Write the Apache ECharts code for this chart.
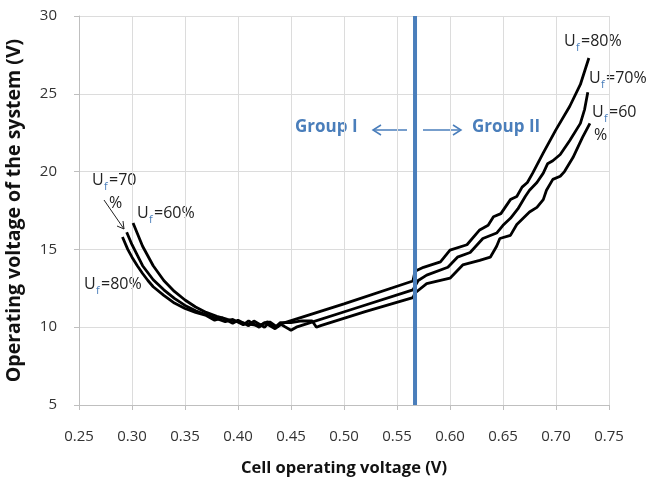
<!DOCTYPE html>
<html>
<head>
<meta charset="utf-8">
<script src="https://cdn.jsdelivr.net/npm/echarts@6/dist/echarts.min.js"></script>
<style>
  html, body { margin: 0; padding: 0; background: #fff; }
  #main { width: 651px; height: 481px; }
</style>
</head>
<body>
<div id="main"></div>
<script>
const myChart = echarts.init(document.getElementById('main'))

// x ticks 0.25 .. 0.75, y ticks 5 .. 30
const xTicks = [0.25, 0.3, 0.35, 0.4, 0.45, 0.5, 0.55, 0.6, 0.65, 0.7, 0.75]
const yTicks = [5, 10, 15, 20, 25, 30]

// Uf = 80% (cell voltage, system voltage)
const uf80 = [
  [0.291, 15.8], [0.296, 15.0], [0.3, 14.5], [0.305, 13.95], [0.31, 13.45], [0.315, 13.0],
  [0.32, 12.6], [0.33, 12.05], [0.34, 11.55], [0.35, 11.2], [0.36, 10.95], [0.37, 10.75],
  [0.378, 10.45], [0.385, 10.6], [0.395, 10.25], [0.4, 10.45], [0.41, 10.1], [0.415, 10.4],
  [0.425, 10.0], [0.43, 10.35], [0.437, 10.0], [0.442, 10.25], [0.5, 11.5], [0.565, 12.97],
  [0.567, 13.6], [0.575, 13.85], [0.591, 14.2], [0.6, 14.95], [0.616, 15.3], [0.628, 16.25],
  [0.636, 16.55], [0.641, 17.1], [0.648, 17.3], [0.657, 18.2], [0.663, 18.4], [0.668, 19.0],
  [0.673, 19.3], [0.678, 19.9], [0.688, 21.2], [0.7, 22.7], [0.713, 24.2], [0.723, 25.6],
  [0.731, 27.3]
]

// Uf = 70%
const uf70 = [
  [0.295, 16.1], [0.3, 15.3], [0.31, 13.95], [0.32, 13.05], [0.33, 12.4], [0.34, 11.85],
  [0.35, 11.4], [0.36, 11.05], [0.37, 10.8], [0.38, 10.55], [0.388, 10.35], [0.395, 10.5],
  [0.405, 10.15], [0.41, 10.4], [0.42, 10.0], [0.425, 10.3], [0.435, 9.9], [0.44, 10.2],
  [0.45, 9.8], [0.455, 10.0], [0.51, 11.2], [0.565, 12.4], [0.57, 13.0], [0.578, 13.35],
  [0.598, 13.85], [0.607, 14.5], [0.619, 14.8], [0.631, 15.7], [0.644, 16.05], [0.65, 16.55],
  [0.657, 17.0], [0.664, 17.6], [0.671, 18.4], [0.675, 18.8], [0.682, 19.3], [0.688, 19.9],
  [0.692, 20.5], [0.697, 20.7], [0.704, 21.1], [0.713, 22.0], [0.723, 23.1], [0.727, 24.0],
  [0.73, 25.1]
]

// Uf = 60%
const uf60 = [
  [0.301, 16.7], [0.31, 15.2], [0.32, 13.95], [0.33, 13.0], [0.34, 12.3], [0.35, 11.75],
  [0.36, 11.3], [0.37, 10.95], [0.38, 10.7], [0.39, 10.5], [0.4, 10.35], [0.41, 10.2],
  [0.42, 10.1], [0.428, 10.35], [0.435, 10.0], [0.44, 10.3], [0.45, 10.3], [0.46, 10.4],
  [0.47, 10.4], [0.474, 10.0], [0.478, 10.1], [0.52, 11.0], [0.565, 11.9], [0.567, 12.2],
  [0.578, 12.8], [0.6, 13.15], [0.612, 14.0], [0.628, 14.3], [0.638, 14.5], [0.644, 15.2],
  [0.647, 15.7], [0.657, 15.9], [0.663, 16.6], [0.675, 17.4], [0.682, 17.7], [0.688, 18.2],
  [0.691, 18.8], [0.697, 19.5], [0.704, 19.7], [0.708, 20.0], [0.716, 20.9], [0.725, 22.2],
  [0.732, 23.1]
]

// boundary between group I and group II
const boundaryX = 0.567

const font = 'Open Sans'
const blue = '#4a7ebb'

// "U" + subscript "f" + rest, drawn as a small group
function ufLabel(x, y, rest, extra) {
  const children = [
    { type: 'text', x: 0, y: 0, style: { text: 'U', fontFamily: font, fontSize: 16, fill: '#222' } },
    { type: 'text', x: 12, y: 9, style: { text: 'f', fontFamily: font, fontSize: 11, fill: blue } },
    { type: 'text', x: 17, y: 0, style: { text: rest, fontFamily: font, fontSize: 16, fill: '#222' } }
  ]
  if (extra) {
    children.push({ type: 'text', x: extra[0] - x, y: extra[1] - y,
      style: { text: '%', fontFamily: font, fontSize: 16, fill: '#222' } })
  }
  return { type: 'group', x: x, y: y, children: children }
}

const curveStyle = { color: '#000', width: 2.8 }

var option = {
  backgroundColor: '#fff',
  animation: false,
  grid: { left: 79, right: 42, top: 16, bottom: 76, outerBoundsMode: 'none' },
  xAxis: {
    type: 'value', min: xTicks[0], max: xTicks[xTicks.length - 1], interval: 0.05,
    name: 'Cell operating voltage (V)', nameLocation: 'middle', nameGap: 55,
    nameTextStyle: { fontFamily: font, fontSize: 16.5, fontWeight: 'bold', color: '#111' },
    axisLine: { lineStyle: { color: '#bfbfbf' } },
    axisTick: { show: true, length: 5, lineStyle: { color: '#bfbfbf' } },
    axisLabel: { fontFamily: font, fontSize: 15, color: '#333', margin: 24, formatter: v => v.toFixed(2) },
    splitLine: { lineStyle: { color: '#dcdcdc' } }
  },
  yAxis: {
    type: 'value', min: yTicks[0], max: yTicks[yTicks.length - 1], interval: 5,
    name: 'Operating voltage of the system (V)', nameLocation: 'middle', nameGap: 55,
    nameTextStyle: { fontFamily: font, fontSize: 19.5, fontWeight: 'bold', color: '#111' },
    axisLine: { show: true, lineStyle: { color: '#bfbfbf' } },
    axisTick: { show: true, length: 5, lineStyle: { color: '#bfbfbf' } },
    axisLabel: { fontFamily: font, fontSize: 15, color: '#333', margin: 22 },
    splitLine: { lineStyle: { color: '#dcdcdc' } }
  },
  series: [
    { name: 'Uf=80%', type: 'line', data: uf80, showSymbol: false, lineStyle: curveStyle, z: 3 },
    { name: 'Uf=70%', type: 'line', data: uf70, showSymbol: false, lineStyle: curveStyle, z: 3 },
    { name: 'Uf=60%', type: 'line', data: uf60, showSymbol: false, lineStyle: curveStyle, z: 3 },
    {
      name: 'boundary', type: 'line', showSymbol: false, z: 4,
      data: [[boundaryX, yTicks[0]], [boundaryX, yTicks[yTicks.length - 1]]],
      lineStyle: { color: blue, width: 4 }
    }
  ],
  graphic: [
    { type: 'text', left: 295, top: 119, style: { text: 'Group I', fontFamily: font, fontSize: 17, fontWeight: 'bold', fill: blue } },
    { type: 'text', left: 472, top: 119, style: { text: 'Group II', fontFamily: font, fontSize: 17, fontWeight: 'bold', fill: blue } },
    { type: 'line', shape: { x1: 373, y1: 130, x2: 407, y2: 130 }, style: { stroke: blue, lineWidth: 1.5 } },
    { type: 'polyline', shape: { points: [[381, 125], [373, 130], [381, 135]] }, style: { stroke: blue, lineWidth: 1.5, fill: null } },
    { type: 'line', shape: { x1: 423, y1: 130, x2: 461, y2: 130 }, style: { stroke: blue, lineWidth: 1.5 } },
    { type: 'polyline', shape: { points: [[453, 125], [461, 130], [453, 135]] }, style: { stroke: blue, lineWidth: 1.5, fill: null } },
    // left side labels
    ufLabel(92, 172, '=70', [109, 195]),
    { type: 'line', shape: { x1: 104, y1: 200, x2: 124, y2: 229 }, style: { stroke: '#222', lineWidth: 1 } },
    { type: 'polyline', shape: { points: [[117, 226], [124, 229], [123, 221]] }, style: { stroke: '#222', lineWidth: 1, fill: null } },
    ufLabel(137, 205, '=60%'),
    ufLabel(84, 276, '=80%'),
    // right side labels
    ufLabel(564, 33, '=80%'),
    ufLabel(589, 70, '=70%'),
    ufLabel(592, 104, '=60', [594, 127])
  ]
}

myChart.setOption(option)
</script>
</body>
</html>
